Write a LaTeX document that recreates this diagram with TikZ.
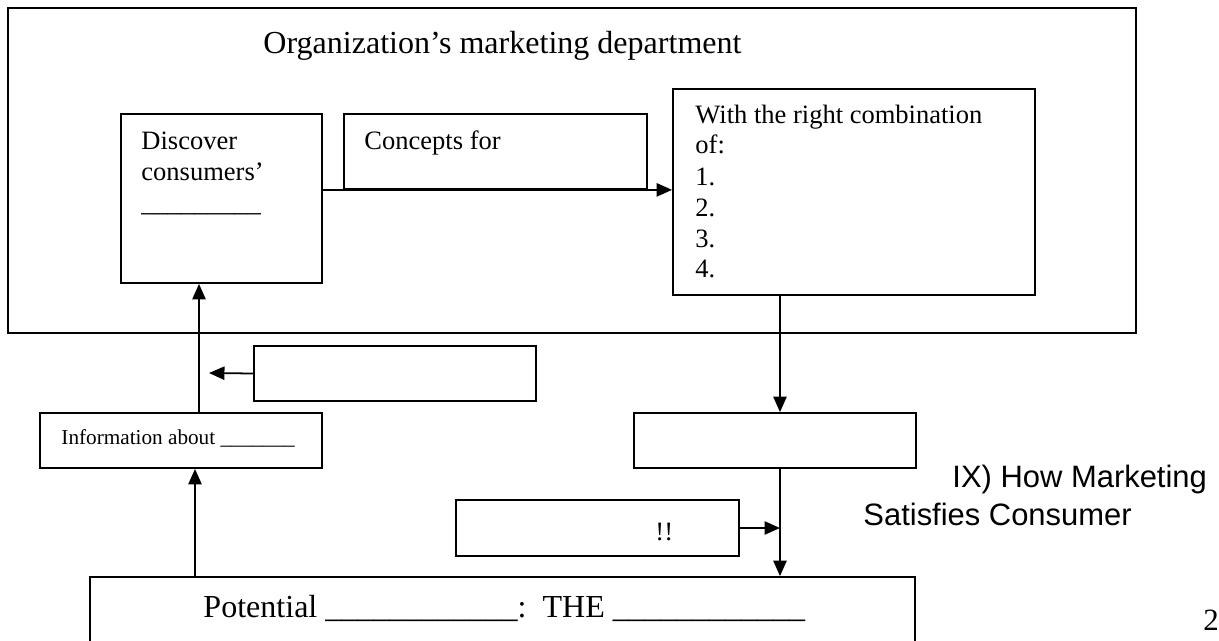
\documentclass[tikz,border=0pt]{standalone}
\usepackage{fontspec}
\setmainfont{Liberation Serif}
\newfontfamily\arialfont{Liberation Sans}
\usetikzlibrary{arrows.meta,fit}
\newcommand{\blank}[1]{\foreach \i in {1,...,#1}{\_}}
\begin{document}
\begin{tikzpicture}[x=0.4525pt,y=-0.4525pt,
  box/.style={draw, line width=0.8pt, inner sep=0pt},
  lbl/.style={anchor=base west, inner sep=0pt, font=\fontsize{12}{14}\selectfont},
  big/.style={lbl, font=\fontsize{14.5}{17}\selectfont},
  arr/.style={line width=0.8pt, -{Triangle[length=7pt,width=6pt]}},
]
\useasboundingbox (0,0) rectangle (1219,641);
\clip (0,0) rectangle (1219,641);

% department frame
\node[box, fit={(8,8) (1136,333)}] (dept) {};
\node[big] (title) at (263,53) {Organization’s marketing department};

% boxes inside the department
\node[box, fit={(121,114) (322,283)}] (disc) {};
\node[lbl] (disc1) at (141,149) {Discover};
\node[lbl] (disc2) at (141,180) {consumers’};
\node[lbl] (disc3) at (141,211) {\_\_\_\_\_\_\_\_\_};

\node[box, fit={(344,114) (647,189)}] (conc) {};
\node[lbl] (conc1) at (364,149) {Concepts for};

\node[box, fit={(673,89) (1035,295)}] (with) {};
\node[lbl] (with1) at (695,123) {With the right combination};
\node[lbl] (with2) at (695,153) {of:};
\node[lbl] (with3) at (695,185) {1.};
\node[lbl] (with4) at (695,216) {2.};
\node[lbl] (with5) at (695,247) {3.};
\node[lbl] (with6) at (695,277) {4.};

% boxes below the department
\node[box, fit={(254,346) (536,401)}] (note) {};
\node[box, fit={(40,413) (322,468)}] (info) {};
\node[lbl, font=\fontsize{9.6}{11}\selectfont] (info1) at (61,444) {Information about \_\_\_\_\_\_\_};
\node[box, fit={(634,413) (916,468)}] (mid) {};
\node[box, fit={(456,500) (739,556)}] (bang) {};
\node[lbl] (bang1) at (655,540) {!!};
\node[box, fit={(90,577) (915,700)}] (pot) {};
\node[big] (pot1) at (203,617) {Potential \_\_\_\_\_\_\_\_\_\_\_\_:\ \ THE \_\_\_\_\_\_\_\_\_\_\_\_};

% heading and page number
\node[lbl, font=\arialfont\fontsize{14}{17}\selectfont] (head1) at (952,487) {IX) How Marketing};
\node[lbl, font=\arialfont\fontsize{14}{17}\selectfont] (head2) at (863,525) {Satisfies Consumer};
\node[big, font=\fontsize{14}{17}\selectfont] (page) at (1203,630) {2};

% connectors
\coordinate (rc) at (780,0);
\coordinate (lc) at (199,0);
\coordinate (lcb) at (195,0);
\coordinate (tip) at (209,373);
\draw[arr] (disc.east |- conc.south) -- (with.west |- conc.south);
\draw[arr] (rc |- with.south) -- (rc |- mid.north);
\draw[arr] (rc |- mid.south) -- (rc |- pot.north);
\draw[arr] (bang.east) -- (rc |- bang.east);
\draw[arr] (lc |- info.north) -- (lc |- disc.south);
\draw[arr] (lcb |- pot.north) -- (lcb |- info.south);
\draw[arr] (note.west) -- (tip);
\end{tikzpicture}
\end{document}
